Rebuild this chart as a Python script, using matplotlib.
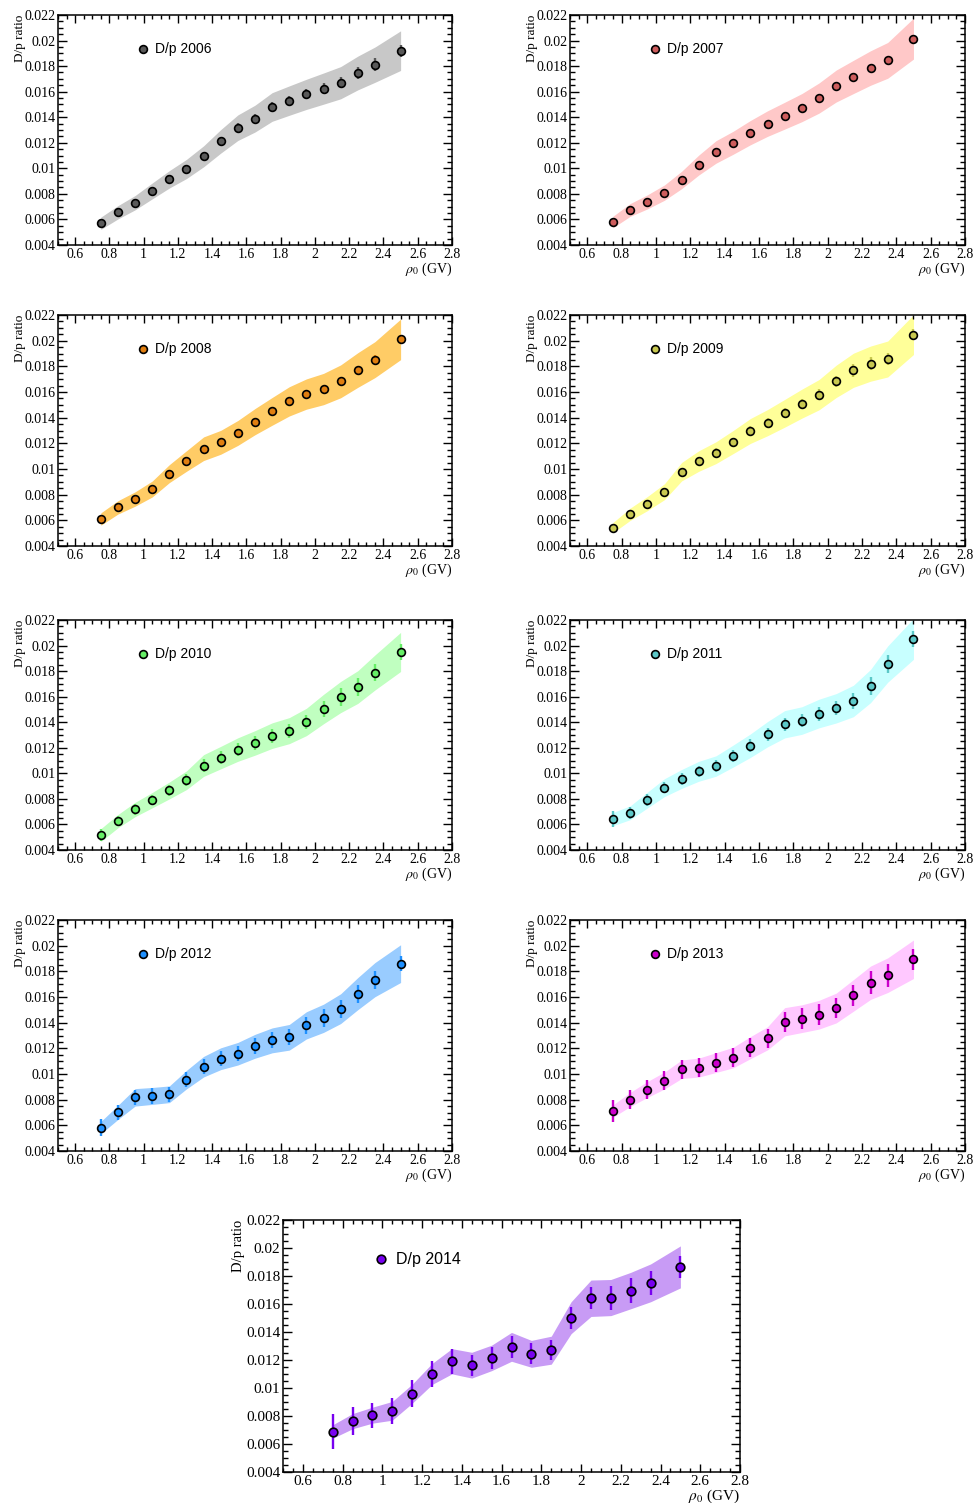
import numpy as np
import matplotlib
matplotlib.use("Agg")
import matplotlib.pyplot as plt
from matplotlib.ticker import MultipleLocator, FuncFormatter

plt.rcParams["font.family"] = ["Liberation Serif", "DejaVu Serif"]
plt.rcParams["mathtext.fontset"] = "stix"

# rigidity bin centres (GV)
rigidity = [0.75, 0.85, 0.95, 1.05, 1.15, 1.25, 1.35, 1.45, 1.55, 1.65,
            1.75, 1.85, 1.95, 2.05, 2.15, 2.25, 2.35, 2.5]

years = ["2006", "2007", "2008", "2009", "2010", "2011", "2012", "2013", "2014"]

# D/p ratio per year
ratio_2006 = [0.0057, 0.00656, 0.00731, 0.00823, 0.00914, 0.00995, 0.01094, 0.01211, 0.01318,
              0.01389, 0.0148, 0.0153, 0.01579, 0.01624, 0.0167, 0.01746, 0.01811, 0.01921]
ratio_2007 = [0.0058, 0.00674, 0.00737, 0.0081, 0.00909, 0.01026, 0.01128, 0.012, 0.01279,
              0.0135, 0.01412, 0.01475, 0.0155, 0.01644, 0.01715, 0.01785, 0.01845, 0.02015]
ratio_2008 = [0.0061, 0.00701, 0.00766, 0.00844, 0.00964, 0.01062, 0.01158, 0.01208, 0.01281,
              0.01369, 0.01449, 0.01527, 0.01584, 0.01623, 0.01683, 0.01771, 0.01852, 0.0201]
ratio_2009 = [0.00543, 0.00647, 0.0073, 0.00823, 0.00979, 0.01062, 0.01127, 0.0121, 0.01296,
              0.01361, 0.01434, 0.01509, 0.01579, 0.01683, 0.01769, 0.01821, 0.01857, 0.02047]
ratio_2010 = [0.00517, 0.00626, 0.00717, 0.0079, 0.00866, 0.00946, 0.01061, 0.01123, 0.01186,
              0.01238, 0.01295, 0.01334, 0.01402, 0.01503, 0.01597, 0.01675, 0.01789, 0.0195]
ratio_2011 = [0.00642, 0.00691, 0.0079, 0.00888, 0.00956, 0.01016, 0.01057, 0.01135, 0.01216,
              0.01306, 0.01384, 0.01413, 0.01468, 0.01509, 0.01566, 0.01683, 0.01855, 0.02052]
ratio_2012 = [0.00582, 0.00701, 0.00818, 0.00829, 0.00842, 0.00956, 0.01057, 0.01119, 0.01158,
              0.01216, 0.01262, 0.01286, 0.01379, 0.01434, 0.01509, 0.01626, 0.01735, 0.0186]
ratio_2013 = [0.00711, 0.00801, 0.00879, 0.00949, 0.01037, 0.0105, 0.01089, 0.01128, 0.01205,
              0.01278, 0.01407, 0.01431, 0.01462, 0.01514, 0.01612, 0.01711, 0.0177, 0.01894]
ratio_2014 = [0.00689, 0.00763, 0.00806, 0.00837, 0.00959, 0.011, 0.01191, 0.01163, 0.01215,
              0.01294, 0.01244, 0.0127, 0.01502, 0.01641, 0.01646, 0.01696, 0.01751, 0.01865]

# statistical uncertainties
stat_2006 = [0.0003, 0.0003, 0.0003, 0.0003, 0.0003, 0.0003, 0.00032, 0.00035, 0.00035,
             0.00037, 0.0004, 0.0004, 0.0004, 0.00042, 0.00045, 0.0005, 0.0005, 0.00048]
stat_2007 = [0.00022, 0.00022, 0.00022, 0.00023, 0.00023, 0.00024, 0.00024, 0.00025, 0.00025,
             0.00026, 0.00026, 0.00027, 0.00027, 0.00028, 0.00028, 0.0003, 0.0003, 0.0003]
stat_2008 = [0.00025, 0.00025, 0.00025, 0.00026, 0.00026, 0.00027, 0.00027, 0.00028, 0.00028,
             0.0003, 0.0003, 0.0003, 0.00032, 0.00032, 0.00034, 0.00035, 0.00035, 0.00035]
stat_2009 = [0.0003, 0.0003, 0.0003, 0.0003, 0.00032, 0.00033, 0.00034, 0.00035, 0.00037,
             0.00038, 0.0004, 0.0004, 0.00042, 0.00045, 0.0005, 0.0005, 0.0005, 0.00045]
stat_2010 = [0.00045, 0.0004, 0.0004, 0.0004, 0.00042, 0.00045, 0.0005, 0.0005, 0.0005,
             0.00052, 0.00055, 0.00055, 0.00058, 0.0006, 0.00068, 0.0007, 0.00065, 0.0006]
stat_2011 = [0.0006, 0.00045, 0.00045, 0.00045, 0.00045, 0.00045, 0.00045, 0.0005, 0.0005,
             0.0005, 0.00052, 0.00052, 0.00055, 0.00055, 0.0006, 0.0007, 0.0007, 0.00065]
stat_2012 = [0.00065, 0.0006, 0.0006, 0.0006, 0.0006, 0.0006, 0.0006, 0.0006, 0.0006,
             0.00062, 0.00062, 0.00062, 0.00065, 0.0007, 0.0007, 0.0007, 0.0007, 0.0006]
stat_2013 = [0.00085, 0.00075, 0.00075, 0.00075, 0.00075, 0.00075, 0.00075, 0.00075, 0.00075,
             0.00075, 0.0008, 0.0008, 0.0008, 0.0008, 0.0008, 0.0009, 0.0009, 0.0008]
stat_2014 = [0.00124, 0.001, 0.0009, 0.00093, 0.00097, 0.0009, 0.0009, 0.00074, 0.00077,
             0.0008, 0.00075, 0.0007, 0.0008, 0.0008, 0.00086, 0.00087, 0.00086, 0.00079]

# systematic uncertainties (shaded band)
sys_2006 = [0.00048, 0.00052, 0.00056, 0.00062, 0.00068, 0.00075, 0.00082, 0.00092, 0.001,
            0.00105, 0.00112, 0.00115, 0.00118, 0.00122, 0.00126, 0.00132, 0.00138, 0.00155]
sys_2007 = [0.00045, 0.0005, 0.00055, 0.0006, 0.00068, 0.00078, 0.00088, 0.0009, 0.00095,
            0.001, 0.00105, 0.0011, 0.00118, 0.00125, 0.0013, 0.00135, 0.0014, 0.0016]
sys_2008 = [0.00048, 0.00052, 0.00056, 0.00062, 0.0007, 0.0008, 0.00092, 0.00093, 0.00097,
            0.00102, 0.00108, 0.00114, 0.00118, 0.00122, 0.00128, 0.00135, 0.0014, 0.00158]
sys_2009 = [0.0004, 0.00048, 0.00055, 0.00062, 0.00072, 0.0008, 0.00085, 0.0009, 0.00097,
            0.00102, 0.00108, 0.00113, 0.00118, 0.00126, 0.00133, 0.00137, 0.0014, 0.00155]
sys_2010 = [0.0005, 0.00052, 0.00056, 0.0006, 0.00066, 0.00073, 0.00085, 0.00088, 0.00092,
            0.00096, 0.001, 0.00102, 0.00107, 0.00115, 0.00122, 0.00128, 0.00137, 0.00153]
sys_2011 = [0.00052, 0.00054, 0.00062, 0.0007, 0.00074, 0.00078, 0.0008, 0.00086, 0.00092,
            0.00099, 0.00107, 0.00108, 0.00112, 0.00115, 0.00123, 0.0013, 0.00142, 0.0016]
sys_2012 = [0.00048, 0.00055, 0.00068, 0.00066, 0.00065, 0.00072, 0.0008, 0.00085, 0.00088,
            0.00093, 0.00097, 0.001, 0.00106, 0.0011, 0.00116, 0.00125, 0.00133, 0.00147]
sys_2013 = [0.00048, 0.00055, 0.00062, 0.00066, 0.00072, 0.00074, 0.00077, 0.0008, 0.00086,
            0.0009, 0.0011, 0.00108, 0.00112, 0.00116, 0.00123, 0.0013, 0.00135, 0.0015]
sys_2014 = [0.00048, 0.00054, 0.00057, 0.00067, 0.00068, 0.00075, 0.0009, 0.00092, 0.00091,
            0.00103, 0.00096, 0.001, 0.00114, 0.0013, 0.00129, 0.0013, 0.00135, 0.0015]

ratios = [ratio_2006, ratio_2007, ratio_2008, ratio_2009, ratio_2010,
          ratio_2011, ratio_2012, ratio_2013, ratio_2014]
stats = [stat_2006, stat_2007, stat_2008, stat_2009, stat_2010,
         stat_2011, stat_2012, stat_2013, stat_2014]
syss = [sys_2006, sys_2007, sys_2008, sys_2009, sys_2010,
        sys_2011, sys_2012, sys_2013, sys_2014]

band_colors = ["#c8c8c8", "#ffc8c8", "#ffcc66", "#ffff99", "#c0ffc0",
               "#c8ffff", "#99ccff", "#ffc8ff", "#c89bf5"]
point_colors = ["#595959", "#cd5c5c", "#e07e10", "#c8c850", "#66ee66",
                "#5cc8c8", "#1e90ff", "#cc00cc", "#7800f0"]

W, H = 975, 1503
fig = plt.figure(figsize=(W / 100, H / 100), dpi=100)

# pad boxes in pixels: (left, top, right, bottom)
boxes = [(58, 15, 452, 245), (570, 15, 965, 245),
         (58, 315, 452, 546), (570, 315, 965, 546),
         (58, 620, 452, 850), (570, 620, 965, 850),
         (58, 920, 452, 1151), (570, 920, 965, 1151),
         (283, 1220, 740, 1472)]


def fmt(v, pos):
    return "{:g}".format(round(v, 6))


for i, (yr, box) in enumerate(zip(years, boxes)):
    l, t, r, b = box
    ax = fig.add_axes([l / W, 1 - b / H, (r - l) / W, (b - t) / H])
    big = (i == 8)
    x = np.array(rigidity)
    y = np.array(ratios[i])
    s = np.array(syss[i])
    e = np.array(stats[i])

    ax.fill_between(x, y - s, y + s, color=band_colors[i], lw=0, zorder=1)
    ax.errorbar(x, y, yerr=e, fmt="none", ecolor=point_colors[i],
                elinewidth=1.7, capsize=0, zorder=2)
    ms = 6.2 if big else 5.6
    ax.plot(x, y, "o", ms=ms, mfc=point_colors[i], mec="black", mew=1.2, zorder=3)

    ax.set_xlim(0.5, 2.8)
    ax.set_ylim(0.004, 0.022)
    ax.xaxis.set_major_locator(MultipleLocator(0.2))
    ax.xaxis.set_minor_locator(MultipleLocator(0.05))
    ax.yaxis.set_major_locator(MultipleLocator(0.002))
    ax.yaxis.set_minor_locator(MultipleLocator(0.0005))
    ax.xaxis.set_major_formatter(FuncFormatter(fmt))
    ax.yaxis.set_major_formatter(FuncFormatter(fmt))

    fs = 11 if big else 10
    ax.tick_params(which="both", direction="in", top=True, right=True,
                   labelsize=fs, width=1.0)
    ax.tick_params(axis="y", which="major", length=6.5, pad=2)
    ax.tick_params(axis="y", which="minor", length=3.5)
    ax.tick_params(axis="x", which="major", length=5.5, pad=2)
    ax.tick_params(axis="x", which="minor", length=3)
    for sp in ax.spines.values():
        sp.set_linewidth(1.1)

    ax.set_ylabel("D/p ratio", fontsize=fs - 0.5, loc="top")
    ax.yaxis.set_label_coords(-(32 if not big else 38) / (r - l), 1.0)
    ax.set_xlabel(r"$\rho_{0}$ (GV)", fontsize=fs, loc="right", labelpad=0)

    # legend entry
    lx_m = (143 - 58) / 394 if not big else (381 - 283) / 457
    lx_t = (155 - 58) / 394 if not big else (396 - 283) / 457
    ly = 0.852 if not big else 0.845
    ax.plot([lx_m], [ly], "o", ms=ms, mfc=point_colors[i], mec="black", mew=1.2,
            transform=ax.transAxes, clip_on=False, zorder=4)
    ax.text(lx_t, ly, "D/p " + yr, transform=ax.transAxes, va="center", ha="left",
            fontsize=11.5 if big else 10, family=["Liberation Sans", "DejaVu Sans"])

fig.savefig("out.png", dpi=100)
